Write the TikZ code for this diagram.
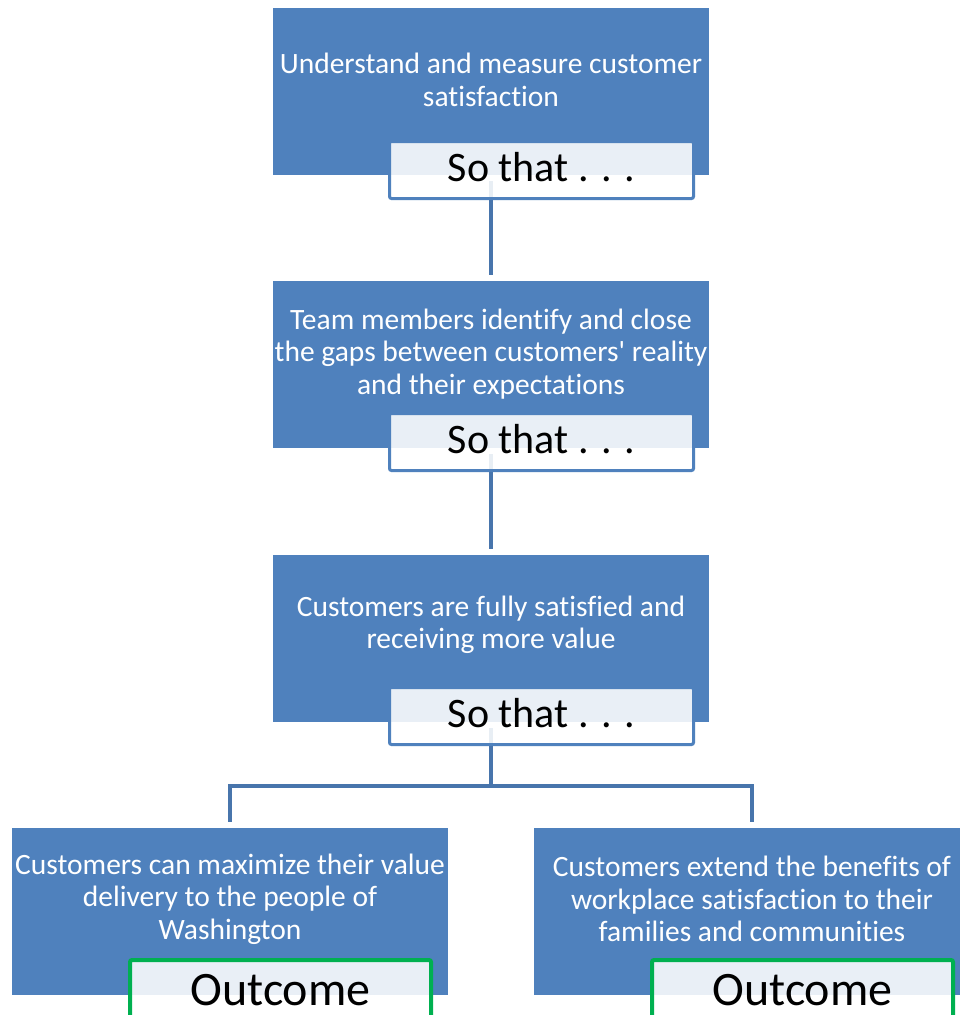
\documentclass[tikz,border=0pt]{standalone}
\usepackage{fontspec}
\newfontfamily\calfont{Carlito}[Ligatures=NoCommon]
\definecolor{boxblue}{RGB}{79,129,189}
\definecolor{connblue}{RGB}{72,117,172}
\definecolor{outgreen}{RGB}{0,176,80}
\tikzset{
  bluebox/.style={fill=boxblue, draw=none, inner sep=0pt, outer sep=0pt, anchor=north west, minimum width=436pt, minimum height=167pt},
  whitetext/.style={text=white, font=\calfont\fontsize{29.5}{32.5}\selectfont, align=center, inner sep=0pt},
  tagbox/.style={fill=white, fill opacity=0.88, text opacity=1, rounded corners=2pt, inner sep=0pt, outer sep=0pt, anchor=north west, text=black},
  sothat/.style={tagbox, draw=boxblue, line width=3pt, minimum width=304pt, minimum height=57pt, text depth=6pt, font=\calfont\fontsize{42}{50}\selectfont},
  outcome/.style={tagbox, draw=outgreen, line width=4pt, minimum width=301pt, minimum height=60pt, font=\calfont\fontsize{48}{56}\selectfont},
  conn/.style={draw=connblue, line width=4pt, shorten <=6pt, shorten >=6pt}
}
\begin{document}
\begin{tikzpicture}[x=1pt,y=-1pt]
\useasboundingbox (0,0) rectangle (960,1015);
\fill[white] (0,0) rectangle (960,1015);
% boxes
\node[bluebox] (b1) at (273,8) {};
\node[bluebox] (b2) at (273,281) {};
\node[bluebox] (b3) at (273,555) {};
\node[bluebox] (b4) at (12,828) {};
\node[bluebox] (b5) at (534,828) {};
% texts
\node[whitetext] (t1) at (491,80) {Understand and measure customer\\satisfaction};
\node[whitetext] (t2) at (491,354) {Team members identify and close\\the gaps between customers' reality\\and their expectations};
\node[whitetext] (t3) at (491,625) {Customers are fully satisfied and\\receiving more value};
\node[whitetext] (t4) at (230,899) {Customers can maximize their value\\delivery to the people of\\Washington};
\node[whitetext] (t5) at (752,899) {Customers extend the benefits of\\workplace satisfaction to their\\families and communities};
% connectors
\draw[conn] (b1.south) -- (b2.north);
\draw[conn] (b2.south) -- (b3.north);
\draw[conn] (b3.south) -- ++(0,64) -| (b4.north);
\draw[conn] (b3.south) -- ++(0,64) -| (b5.north);
% tags
\node[sothat] (s1) at (389.5,141.5) {So that . . .};
\node[sothat] (s2) at (389.5,413.5) {So that . . .};
\node[sothat] (s3) at (389.5,687.5) {So that . . .};
\node[outcome] (o1) at (130,960) {Outcome};
\node[outcome] (o2) at (652,960) {Outcome};
\end{tikzpicture}
\end{document}
